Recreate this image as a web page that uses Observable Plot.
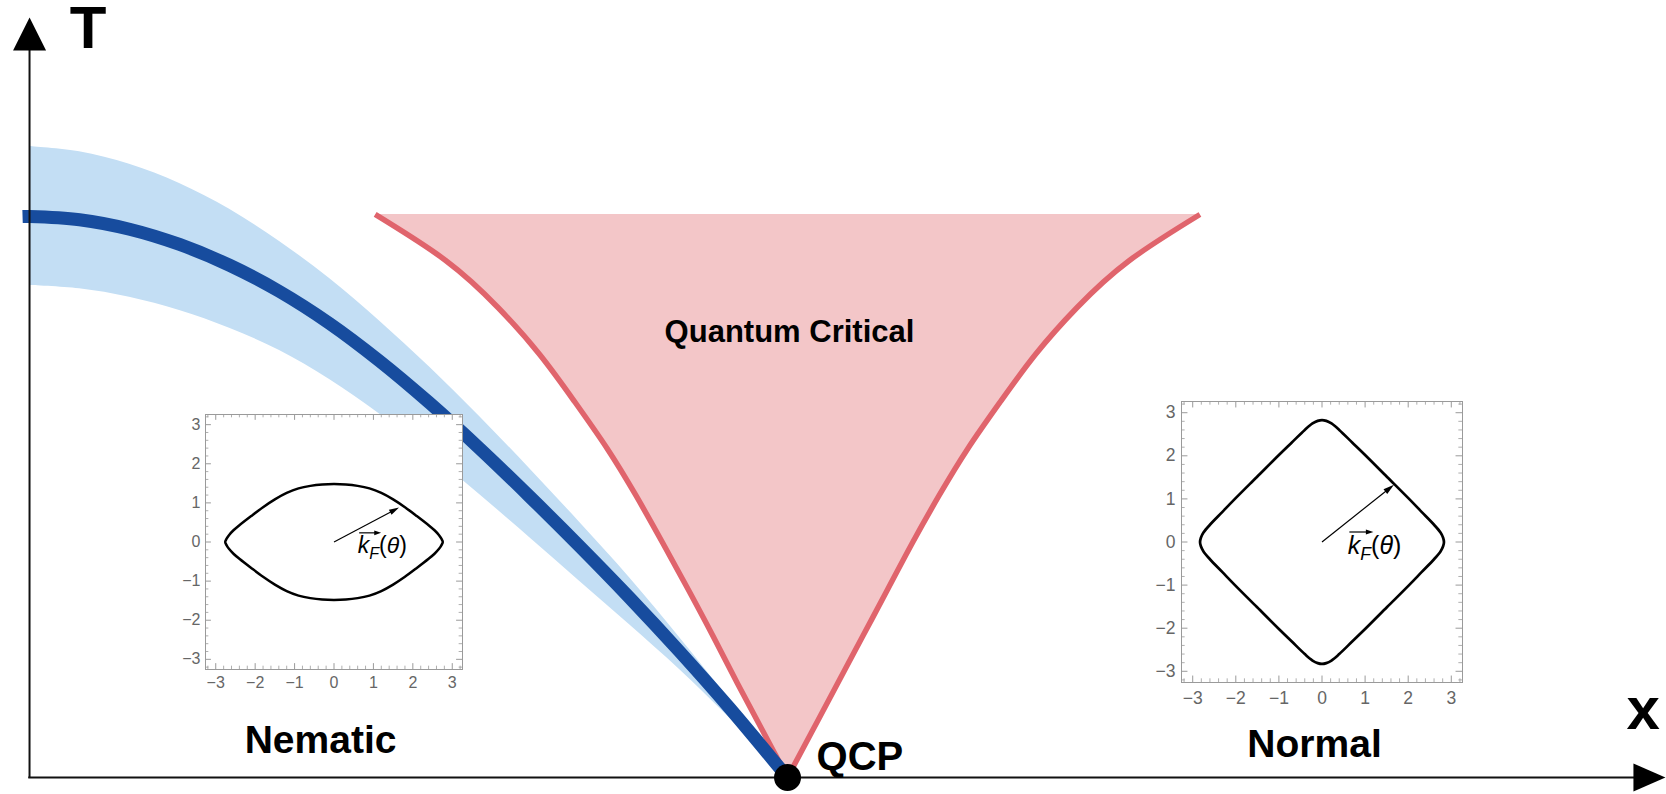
<!DOCTYPE html>
<html><head><meta charset="utf-8">
<script src="https://cdn.jsdelivr.net/npm/d3@7"></script>
<script src="https://cdn.jsdelivr.net/npm/@observablehq/plot@0.6"></script>
<style>
body{margin:0;background:#fff;}
#wrap{position:relative;width:1666px;height:794px;overflow:hidden;}
</style></head><body><div id="wrap"></div>
<script>
// ---------- DATA (x: tuning parameter, QCP at x = 1; T: temperature, nematic Tc(0) = 1) ----------
const nemX      = [0, 0.066, 0.1319, 0.1979, 0.2639, 0.3298, 0.3958, 0.4617, 0.5277, 0.5937, 0.6596, 0.7256, 0.7916, 0.8575, 0.9235, 1];
const nemT      = [1.0, 0.9942, 0.9773, 0.9501, 0.9131, 0.8663, 0.8093, 0.7424, 0.6676, 0.5865, 0.5009, 0.4122, 0.3204, 0.2246, 0.1239, 0];
const bandUpper = [1.1248, 1.1154, 1.0931, 1.0588, 1.0129, 0.9554, 0.8895, 0.8137, 0.7317, 0.6435, 0.5508, 0.4550, 0.3561, 0.2496, 0.1381, 0];
const bandLower = [0.8770, 0.8712, 0.8561, 0.8324, 0.8008, 0.7611, 0.7094, 0.6480, 0.5784, 0.5045, 0.4278, 0.3498, 0.2723, 0.1925, 0.1061, 0];
const fanT      = [0, 0.0838, 0.1676, 0.2513, 0.3351, 0.4189, 0.5027, 0.5865, 0.6702, 0.7540, 0.8378, 0.9216, 1.0036];
const fanLeft   = [1, 0.967, 0.934, 0.902, 0.869, 0.835, 0.800, 0.762, 0.719, 0.673, 0.618, 0.549, 0.456];
const fanRight  = [1, 1.033, 1.066, 1.099, 1.132, 1.165, 1.200, 1.238, 1.281, 1.327, 1.382, 1.451, 1.544];
const qcp       = [{x: 1, T: 0}];
const axisNames = ["T", "x"];
const phaseNames = ["Nematic", "Normal", "Quantum Critical", "QCP"];

// Fermi surfaces in the insets (kx, ky)
const nematicFS = [[2.76,0],[2.72,0.09],[2.66,0.18],[2.55,0.30],[2.40,0.43],[2.10,0.665],[1.80,0.89],[1.50,1.09],[1.20,1.255],[0.90,1.37],[0.60,1.435],[0.30,1.47],[0,1.48],
  [-0.30,1.47],[-0.60,1.435],[-0.90,1.37],[-1.20,1.255],[-1.50,1.09],[-1.80,0.89],[-2.10,0.665],[-2.40,0.43],[-2.55,0.30],[-2.66,0.18],[-2.72,0.09],[-2.76,0],
  [-2.72,-0.09],[-2.66,-0.18],[-2.55,-0.30],[-2.40,-0.43],[-2.10,-0.665],[-1.80,-0.89],[-1.50,-1.09],[-1.20,-1.255],[-0.90,-1.37],[-0.60,-1.435],[-0.30,-1.47],[0,-1.48],
  [0.30,-1.47],[0.60,-1.435],[0.90,-1.37],[1.20,-1.255],[1.50,-1.09],[1.80,-0.89],[2.10,-0.665],[2.40,-0.43],[2.55,-0.30],[2.66,-0.18],[2.72,-0.09]];
const normalFS = [[2.83,0],[2.81,0.10],[2.75,0.22],[2.60,0.40],[2.31,0.70],[2.02,1.00],[1.51,1.51],[1.00,2.02],[0.70,2.31],[0.40,2.60],[0.22,2.75],[0.10,2.81],[0,2.83],
  [-0.10,2.81],[-0.22,2.75],[-0.40,2.60],[-0.70,2.31],[-1.00,2.02],[-1.51,1.51],[-2.02,1.00],[-2.31,0.70],[-2.60,0.40],[-2.75,0.22],[-2.81,0.10],[-2.83,0],
  [-2.81,-0.10],[-2.75,-0.22],[-2.60,-0.40],[-2.31,-0.70],[-2.02,-1.00],[-1.51,-1.51],[-1.00,-2.02],[-0.70,-2.31],[-0.40,-2.60],[-0.22,-2.75],[-0.10,-2.81],[0,-2.83],
  [0.10,-2.81],[0.22,-2.75],[0.40,-2.60],[0.70,-2.31],[1.00,-2.02],[1.51,-1.51],[2.02,-1.00],[2.31,-0.70],[2.60,-0.40],[2.75,-0.22],[2.81,-0.10]];
const nematicKF = [1.65, 0.88];
const normalKF  = [1.67, 1.33];
const insetTicks = [-3, -2, -1, 0, 1, 2, 3];
const insetTickLabels = ["−3", "−2", "−1", "0", "1", "2", "3"];
const KF = "kF(θ)";

// ---------- BUILD ----------
const FONT = "'Liberation Sans', Arial, Helvetica, sans-serif";
const band = nemX.map((x, i) => ({x, lo: bandLower[i], hi: bandUpper[i]}));
const nem = [{x: -0.0092, T: nemT[0]}].concat(nemX.map((x, i) => ({x, T: nemT[i]})));
const fan = fanT.map((T, i) => ({T, l: fanLeft[i], r: fanRight[i]}));

const upHead = {draw(c) { c.moveTo(0, -33); c.lineTo(16.5, 0); c.lineTo(-16.5, 0); c.closePath(); }};
const rightHead = {draw(c) { c.moveTo(32, 0); c.lineTo(0, -14); c.lineTo(0, 14); c.closePath(); }};

const wrap = document.getElementById("wrap");

const main = Plot.plot({
  width: 1666, height: 794, margin: 0,
  x: {domain: [-0.0383, 2.1596], axis: null},
  y: {domain: [-0.0303, 1.385], axis: null},
  style: {fontFamily: FONT, background: "transparent", overflow: "visible"},
  marks: [
    Plot.areaY(band, {x: "x", y1: "lo", y2: "hi", fill: "#c3def4", curve: "catmull-rom"}),
    Plot.areaX(fan, {y: "T", x1: "l", x2: "r", fill: "#f3c6c8", curve: "natural"}),
    Plot.line(fan, {x: "l", y: "T", stroke: "#e0646c", strokeWidth: 5.5, curve: "natural", strokeLinecap: "butt"}),
    Plot.line(fan, {x: "r", y: "T", stroke: "#e0646c", strokeWidth: 5.5, curve: "natural", strokeLinecap: "butt"}),
    Plot.line(nem, {x: "x", y: "T", stroke: "#174c9e", strokeWidth: 13, curve: "catmull-rom", strokeLinecap: "butt"}),
    Plot.ruleX([0], {y1: -0.002, y2: 1.30, stroke: "#111", strokeWidth: 2}),
    Plot.ruleY([0], {x1: -0.001, x2: 2.118, stroke: "#111", strokeWidth: 2}),
    Plot.dot([0], {x: 0, y: 1.296, symbol: upHead, fill: "#000", stroke: "none"}),
    Plot.dot([0], {x: 2.116, y: 0, symbol: rightHead, fill: "#000", stroke: "none"}),
    Plot.dot(qcp, {x: "x", y: "T", r: 13.5, fill: "#000"}),
    Plot.text([axisNames[0]], {x: 0.0772, y: 1.2995, text: d => d, fontSize: 60, fontWeight: "bold", lineAnchor: "bottom", fill: "#000"}),
    Plot.text([axisNames[1]], {x: 2.129, y: 0.0856, text: d => d, fontSize: 60, fontWeight: "bold", lineAnchor: "bottom", fill: "#000"}),
    Plot.text([phaseNames[0]], {x: 0.3839, y: 0.0428, text: d => d, fontSize: 39, fontWeight: "bold", lineAnchor: "bottom", fill: "#000"}),
    Plot.text([phaseNames[1]], {x: 1.6953, y: 0.0374, text: d => d, fontSize: 39, fontWeight: "bold", lineAnchor: "bottom", fill: "#000"}),
    Plot.text([phaseNames[2]], {x: 1.0026, y: 0.777, text: d => d, fontSize: 31, fontWeight: "bold", lineAnchor: "bottom", fill: "#000"}),
    Plot.text([phaseNames[3]], {x: 1.0383, y: 0.0125, text: d => d, fontSize: 40, fontWeight: "bold", lineAnchor: "bottom", textAnchor: "start", fill: "#000"})
  ]
});
main.style.position = "absolute"; main.style.left = "0px"; main.style.top = "0px";
wrap.appendChild(main);

function headSymbol(kf, L, h) {
  const a = Math.atan2(kf[1], kf[0]);
  const ux = Math.cos(a), uy = -Math.sin(a);
  return {draw(c) {
    const bx = -ux * L, by = -uy * L;
    c.moveTo(0, 0);
    c.lineTo(bx - uy * h, by + ux * h);
    c.lineTo(bx + uy * h, by - ux * h);
    c.closePath();
  }};
}

function inset(pts, kf, o) {
  const lim = 3.26;
  const minor = d3.range(-16, 17).filter(i => i % 5 !== 0).map(i => i / 5);
  const tl = 0.15, tm = 0.085;
  const data = pts.map(([x, y]) => ({x, y}));
  const g = "#9a9a9a";
  const svg = Plot.plot({
    width: o.fw + o.mL + o.mR, height: o.fh + o.mT + o.mB,
    marginLeft: o.mL, marginRight: o.mR, marginTop: o.mT, marginBottom: o.mB,
    x: {domain: [-lim, lim], axis: null},
    y: {domain: [-lim, lim], axis: null},
    style: {fontFamily: FONT, background: "transparent", overflow: "visible"},
    marks: [
      Plot.frame({fill: "white", stroke: "none"}),
      Plot.ruleX(insetTicks, {x: d => d, y1: -lim, y2: -lim + tl, stroke: g}),
      Plot.ruleX(insetTicks, {x: d => d, y1: lim - tl, y2: lim, stroke: g}),
      Plot.ruleY(insetTicks, {y: d => d, x1: -lim, x2: -lim + tl, stroke: g}),
      Plot.ruleY(insetTicks, {y: d => d, x1: lim - tl, x2: lim, stroke: g}),
      Plot.ruleX(minor, {x: d => d, y1: -lim, y2: -lim + tm, stroke: g, strokeWidth: 0.8}),
      Plot.ruleX(minor, {x: d => d, y1: lim - tm, y2: lim, stroke: g, strokeWidth: 0.8}),
      Plot.ruleY(minor, {y: d => d, x1: -lim, x2: -lim + tm, stroke: g, strokeWidth: 0.8}),
      Plot.ruleY(minor, {y: d => d, x1: lim - tm, x2: lim, stroke: g, strokeWidth: 0.8}),
      Plot.frame({stroke: g, strokeWidth: 1}),
      Plot.line(data, {x: "x", y: "y", curve: "catmull-rom-closed", stroke: "#000", strokeWidth: o.sw}),
      Plot.link([kf], {x1: 0, y1: 0, x2: d => d[0] * 0.93, y2: d => d[1] * 0.93, stroke: "#000", strokeWidth: 1.2}),
      Plot.dot([kf], {x: d => d[0], y: d => d[1], symbol: headSymbol(kf, o.hl, o.hw), fill: "#000", stroke: "none"}),
      Plot.text(insetTicks, {x: d => d, y: -lim, text: (d, i) => insetTickLabels[i], lineAnchor: "top", dy: o.gapX, fontSize: o.fs, fill: "#666"}),
      Plot.text(insetTicks, {x: -lim, y: d => d, text: (d, i) => insetTickLabels[i], textAnchor: "end", dx: -o.gapY, fontSize: o.fs, fill: "#666"}),
      Plot.text([KF], {x: 0.6, y: -0.29, text: d => d, textAnchor: "start", lineAnchor: "bottom", fontSize: o.kfs, fill: "#000"})
    ]
  });
  svg.style.position = "absolute";
  svg.style.left = o.left + "px";
  svg.style.top = o.top + "px";
  wrap.appendChild(svg);
  richLabel(svg, o.kfs);
  return svg;
}

function richLabel(svg, fs) {
  const ns = "http://www.w3.org/2000/svg";
  svg.querySelectorAll("text").forEach(t => {
    if (t.textContent !== KF) return;
    t.textContent = "";
    const mk = (s, italic, dy, size) => {
      const e = document.createElementNS(ns, "tspan");
      e.textContent = s;
      if (italic) e.setAttribute("font-style", "italic");
      if (dy) e.setAttribute("dy", dy);
      if (size) e.setAttribute("font-size", size);
      t.appendChild(e);
      return e;
    };
    const k = mk("k", true);
    const F = mk("F", true, (0.24 * fs) + "px", (0.7 * fs) + "px");
    mk("(", false, (-0.24 * fs) + "px");
    mk("θ", true);
    mk(")", false);
    const b1 = k.getBBox(), b2 = F.getBBox();
    const x0 = b1.x + 1.5, x1 = b2.x + b2.width + 1, y = b1.y + 0.5;
    const p = document.createElementNS(ns, "path");
    const hl = 0.3 * fs, hw = 0.1 * fs;
    p.setAttribute("d", `M${x0},${y}L${x1 - hl + 1},${y}`);
    p.setAttribute("stroke", "#000");
    p.setAttribute("stroke-width", 1.2);
    const h = document.createElementNS(ns, "path");
    h.setAttribute("d", `M${x1},${y}L${x1 - hl},${y - hw}L${x1 - hl},${y + hw}Z`);
    h.setAttribute("fill", "#000");
    const tr = t.getAttribute("transform");
    if (tr) { p.setAttribute("transform", tr); h.setAttribute("transform", tr); }
    t.parentNode.appendChild(p);
    t.parentNode.appendChild(h);
  });
}

inset(nematicFS, nematicKF, {fw: 257, fh: 255, mL: 36, mR: 3, mT: 3, mB: 30, left: 169, top: 411, fs: 16, kfs: 23, sw: 2.5, gapX: 7, gapY: 5, hl: 10, hw: 2.8});
inset(normalFS, normalKF, {fw: 281, fh: 281, mL: 40, mR: 3, mT: 3, mB: 34, left: 1141, top: 398, fs: 17.5, kfs: 25, sw: 2.7, gapX: 9, gapY: 6, hl: 11, hw: 3});
</script>
</body></html>
